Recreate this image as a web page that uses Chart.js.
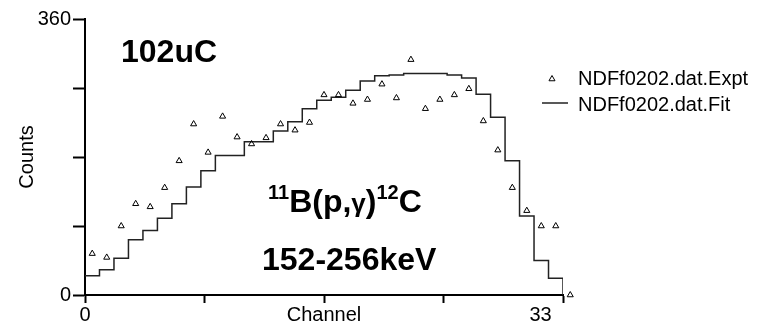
<!DOCTYPE html>
<html>
<head>
<meta charset="utf-8">
<script src="https://cdn.jsdelivr.net/npm/chart.js@4/dist/chart.umd.min.js"></script>
<style>
  html, body { margin: 0; padding: 0; background: #fff; }
  #wrap { width: 764px; height: 328px; }
</style>
</head>
<body>
<div id="wrap"><canvas id="chart" width="764" height="328"></canvas></div>
<script>
// counts per channel (expt points sit at the bin centres)
const exptCounts = [54, 49, 90, 119, 115, 140, 175, 223, 186, 233, 206, 197, 205, 223, 215, 225, 261,
                    261, 250, 255, 275, 257, 307, 243, 255, 261, 269, 227, 189, 140, 110, 90, 90, 0];
// fit histogram, one value per channel bin, last entry closes the histogram at 0
const fitCounts = [25, 33, 48, 72, 84, 100, 119, 141, 162, 182, 182, 200, 200, 214, 226, 243, 254,
                   258, 267, 279, 286, 287, 289, 289, 289, 287, 283, 262, 232, 175, 103, 45, 22, 0];

const yTicks = [0, 90, 180, 270, 360];
const yTickLabels = ['0', '', '', '', '360'];
const xTickMarks = [0, 8.25, 16.5, 24.75, 33];
const xLabelAt = [0, 31.45];
const xTickLabels = ['0', '33'];

const FONT = '"Liberation Sans", Arial, sans-serif';

const exptData = exptCounts.map((c, i) => ({ x: i + 0.5, y: c }));
const fitData = fitCounts.map((c, i) => ({ x: i, y: c }));

// texts inside the plot + the legend box on the right
const overlay = {
    id: 'overlay',
    afterDatasetsDraw(chart) {
        // chart.js skips points outside the chart area; the last channel sits past the axis end
        const ctx = chart.ctx;
        const a = chart.chartArea;
        const whole = { left: 0, top: 0, right: chart.width, bottom: chart.height };
        chart.getDatasetMeta(0).data.forEach(pt => {
            if (pt.x > a.right || pt.x < a.left) pt.draw(ctx, whole);
        });
    },
    afterDraw(chart) {
        const ctx = chart.ctx;
        ctx.save();
        ctx.fillStyle = '#000';
        ctx.textAlign = 'left';
        ctx.textBaseline = 'alphabetic';

        const big = 'bold 32px ' + FONT;
        const sup = 'bold 20px ' + FONT;

        ctx.font = big;
        ctx.fillText('102uC', 121, 62);

        // 11B(p,γ)12C with superscripts
        let x = 268;
        const parts = [
            ['11', sup, 199],
            ['B(p,', big, 212],
            ['\u03b3', 'bold 26px ' + FONT, 212],
            [')', big, 212],
            ['12', sup, 199],
            ['C', big, 212]
        ];
        parts.forEach(([t, f, y]) => {
            ctx.font = f;
            ctx.fillText(t, x, y);
            x += ctx.measureText(t).width;
        });

        ctx.font = big;
        ctx.fillText('152-256keV', 262, 270);

        // legend
        const ds = chart.data.datasets;
        ctx.font = '20px ' + FONT;
        ctx.textBaseline = 'middle';
        ctx.strokeStyle = '#000';
        ctx.fillStyle = 'rgba(255,255,255,0)';
        ctx.lineWidth = 1;
        Chart.helpers.drawPoint(ctx, { pointStyle: 'triangle', radius: 3.5, borderWidth: 1, rotation: 0 }, 552, 79);
        ctx.beginPath();
        ctx.lineWidth = 1.5;
        ctx.strokeStyle = '#222';
        ctx.moveTo(542, 103);
        ctx.lineTo(568, 103);
        ctx.stroke();
        ctx.fillStyle = '#000';
        ctx.fillText(ds[0].label, 578, 79);
        ctx.fillText(ds[1].label, 578, 105);
        ctx.restore();
    }
};

new Chart(document.getElementById('chart'), {
    type: 'scatter',
    data: {
        datasets: [
            {
                label: 'NDFf0202.dat.Expt',
                data: exptData,
                showLine: false,
                pointStyle: 'triangle',
                pointRadius: 3.5,
                pointBorderWidth: 1,
                pointBorderColor: '#000',
                pointBackgroundColor: 'rgba(255,255,255,0)',
                clip: false
            },
            {
                label: 'NDFf0202.dat.Fit',
                data: fitData,
                showLine: true,
                stepped: true,
                borderColor: '#222',
                borderWidth: 1.5,
                pointRadius: 0,
                fill: false
            }
        ]
    },
    options: {
        responsive: false,
        devicePixelRatio: 1,
        animation: false,
        layout: { padding: { top: 19, right: 201, left: 0, bottom: 0 } },
        plugins: {
            legend: { display: false },
            tooltip: { enabled: false }
        },
        scales: {
            x: {
                type: 'linear',
                min: 0,
                max: 33,
                afterBuildTicks: (scale) => {
                    const vals = Array.from(new Set(xTickMarks.concat(xLabelAt))).sort((a, b) => a - b);
                    scale.ticks = vals.map(v => ({ value: v }));
                },
                afterFit: (scale) => { scale.height = 33; },
                grid: {
                    drawOnChartArea: false,
                    drawTicks: true,
                    tickLength: 8,
                    tickWidth: 2,
                    tickColor: (c) => xTickMarks.includes(c.tick.value) ? '#000' : 'rgba(0,0,0,0)'
                },
                border: { display: true, color: '#000', width: 2 },
                ticks: {
                    autoSkip: false,
                    maxRotation: 0,
                    padding: 0,
                    color: '#000',
                    font: { family: FONT, size: 20 },
                    callback: (v) => {
                        const k = xLabelAt.indexOf(v);
                        return k >= 0 ? xTickLabels[k] : '';
                    }
                },
                title: {
                    display: true,
                    text: 'Channel',
                    color: '#000',
                    font: { family: FONT, size: 20 },
                    padding: { top: 0, bottom: 1 }
                }
            },
            y: {
                min: 0,
                max: 360,
                afterBuildTicks: (scale) => { scale.ticks = yTicks.map(v => ({ value: v })); },
                afterFit: (scale) => { scale.width = 85; },
                grid: {
                    drawOnChartArea: false,
                    drawTicks: true,
                    tickLength: 12,
                    tickWidth: 2,
                    tickColor: '#000'
                },
                border: { display: true, color: '#000', width: 2 },
                ticks: {
                    autoSkip: false,
                    padding: 2,
                    color: '#000',
                    font: { family: FONT, size: 20 },
                    callback: (v) => yTickLabels[yTicks.indexOf(v)]
                },
                title: {
                    display: true,
                    text: 'Counts',
                    color: '#000',
                    font: { family: FONT, size: 20 },
                    padding: { top: 15, bottom: 0 }
                }
            }
        }
    },
    plugins: [overlay]
});
</script>
</body>
</html>
